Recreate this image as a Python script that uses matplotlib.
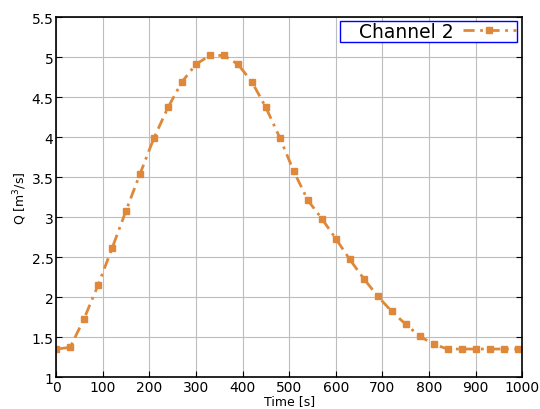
import matplotlib
matplotlib.use("Agg")
import matplotlib.pyplot as plt
import numpy as np

# time steps [s] and discharge of channel 2 [m^3/s]
time = np.arange(0, 1000, 30)
q = [1.35, 1.37, 1.73, 2.15, 2.61, 3.08, 3.54, 3.99, 4.37, 4.69,
     4.91, 5.02, 5.02, 4.91, 4.69, 4.37, 3.99, 3.57, 3.21, 2.98,
     2.73, 2.47, 2.23, 2.01, 1.82, 1.66, 1.51, 1.41, 1.35, 1.35,
     1.35, 1.35, 1.35, 1.35]

xticks = np.arange(0, 1001, 100)
yticks = [1, 1.5, 2, 2.5, 3, 3.5, 4, 4.5, 5, 5.5]
ytick_labels = ["1", "1.5", "2", "2.5", "3", "3.5", "4", "4.5", "5", "5.5"]

fig = plt.figure(figsize=(5.4, 4.1), dpi=100)
ax = fig.add_axes([0.104, 0.078, 0.863, 0.878])

ax.plot(time, q, color="#e0883a", linestyle=(0, (4, 2, 1, 2)), linewidth=2,
        marker="s", markersize=5, label="Channel 2")

ax.set_xlim(0, 1000)
ax.set_ylim(1, 5.5)
ax.set_xticks(xticks)
ax.set_yticks(yticks)
ax.set_yticklabels(ytick_labels)
ax.grid(True, color="#bdbdbd", linewidth=0.8)
ax.tick_params(direction="in", labelsize=10, right=True, top=False, length=4, pad=2)
for s in ax.spines.values():
    s.set_linewidth(1.2)

ax.set_xlabel("Time [s]", fontsize=9, labelpad=0)
ax.set_ylabel("Q [m$^3$/s]", fontsize=9, labelpad=2)

leg = ax.legend(loc="upper right", fontsize=13.5, markerfirst=False, fancybox=False,
                framealpha=1, borderaxespad=0.25, borderpad=0.05, handlelength=2.8,
                handletextpad=0.5, bbox_to_anchor=(0.998, 1.002))
leg.get_frame().set_edgecolor("blue")
leg.get_frame().set_linewidth(1)
leg.get_texts()[0].set_text("   Channel 2")

fig.savefig("out.png", dpi=100)
